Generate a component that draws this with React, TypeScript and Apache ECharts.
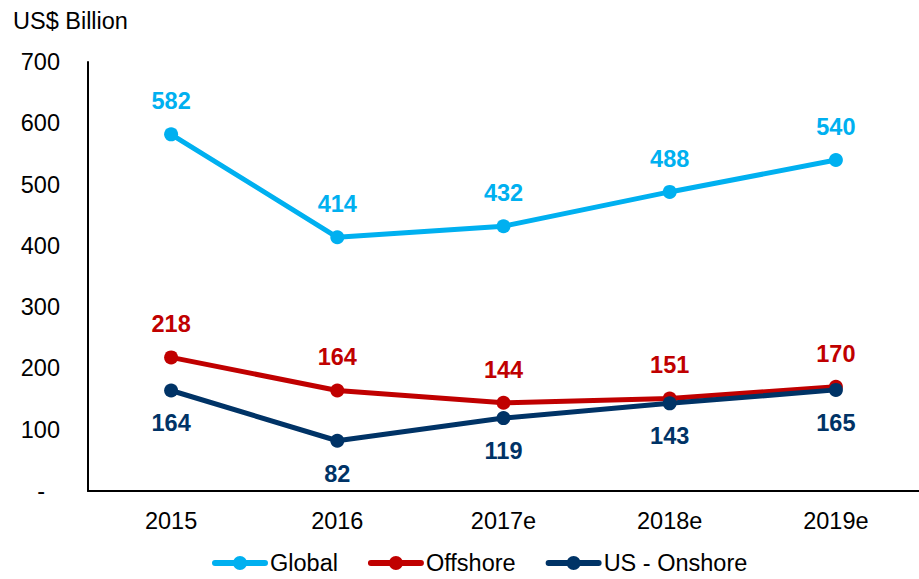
import React, { useEffect, useRef } from "react";
import * as echarts from "echarts";

const categories = ["2015", "2016", "2017e", "2018e", "2019e"];
const globalValues = [582, 414, 432, 488, 540];
const offshoreValues = [218, 164, 144, 151, 170];
const onshoreValues = [164, 82, 119, 143, 165];
const yTicks = [0, 100, 200, 300, 400, 500, 600, 700];

const legendIcon =
  "path://M3,4 L53,4 A3,3 0 0 1 53,10 L3,10 A3,3 0 0 1 3,4 Z M21,7 A7,7 0 1 1 35,7 A7,7 0 1 1 21,7 Z";

export default function App() {
  const ref = useRef<HTMLDivElement>(null);
  useEffect(() => {
    const chart = echarts.init(ref.current!, null, { renderer: "svg" });
    const font = "Liberation Sans, Arial, sans-serif";
    const fs = 23.5;
    const mk = (name: string, data: number[], color: string, pos: string) => ({
      name,
      type: "line",
      data,
      symbol: "circle",
      symbolSize: 14,
      lineStyle: { width: 5, color },
      itemStyle: { color },
      label: {
        show: true,
        position: pos,
        distance: 14,
        color,
        fontWeight: "bold",
        fontSize: fs,
        fontFamily: font,
      },
    });
    chart.setOption({
      animation: false,
      textStyle: { fontFamily: font },
      grid: { left: 88, top: 62, right: 0, bottom: 88 },
      graphic: [
        {
          type: "text",
          left: 13,
          top: 9,
          style: { text: "US$ Billion", font: `${fs}px ${font}`, fill: "#000" },
        },
      ],
      xAxis: {
        type: "category",
        data: categories,
        boundaryGap: true,
        axisLine: { lineStyle: { color: "#000", width: 2 } },
        axisTick: { show: false },
        axisLabel: { color: "#000", fontSize: fs, margin: 18, fontFamily: font },
      },
      yAxis: {
        type: "value",
        min: yTicks[0],
        max: yTicks[yTicks.length - 1],
        interval: 100,
        splitLine: { show: false },
        axisLine: { show: true, lineStyle: { color: "#000", width: 2 } },
        axisTick: { show: false },
        axisLabel: {
          color: "#000",
          fontSize: fs,
          margin: 28,
          fontFamily: font,
          formatter: (v: number) => (v === 0 ? "{d|-}" : String(v)),
          rich: { d: { fontSize: fs, padding: [0, 15, 0, 0], fontFamily: font, color: "#000" } },
        },
      },
      legend: {
        bottom: -1,
        left: 207,
        itemWidth: 56,
        itemHeight: 14,
        itemGap: 30,
        icon: legendIcon,
        textStyle: { fontSize: fs, color: "#000", fontFamily: font, padding: [0, 0, 0, -3] },
        data: ["Global", "Offshore", "US - Onshore"],
      },
      series: [
        mk("Global", globalValues, "#00B0F0", "top"),
        mk("Offshore", offshoreValues, "#C00000", "top"),
        mk("US - Onshore", onshoreValues, "#003366", "bottom"),
      ],
    });
    return () => chart.dispose();
  }, []);
  return <div ref={ref} style={{ width: 919, height: 579, position: "absolute", left: 0, top: 0 }} />;
}
